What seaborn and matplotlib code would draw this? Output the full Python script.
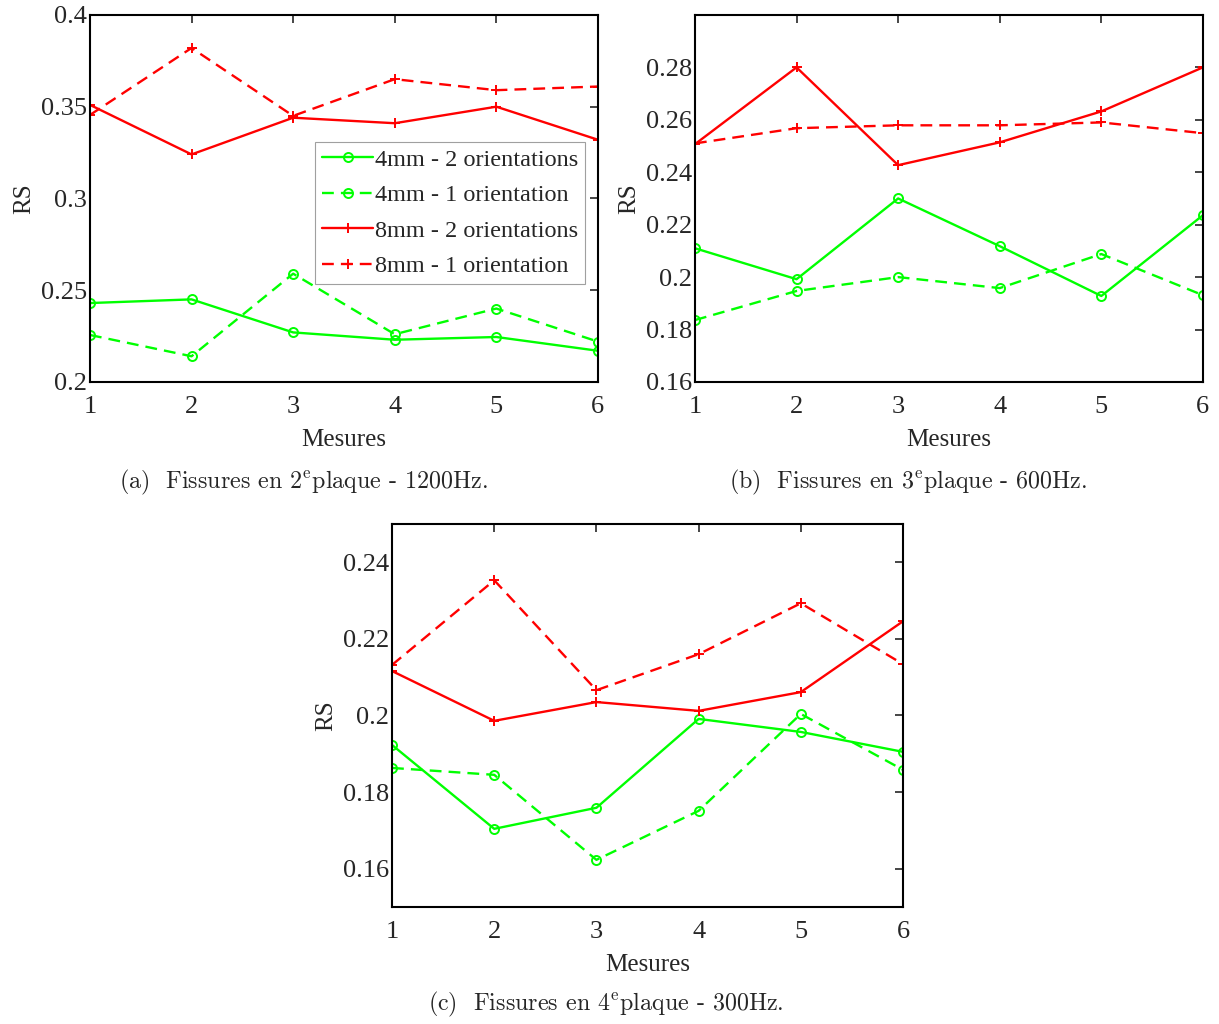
import numpy as np
import pandas as pd
import matplotlib
matplotlib.use("Agg")
import matplotlib.pyplot as plt
import seaborn as sns

# valeurs
mesures = [1, 2, 3, 4, 5, 6]
noms = ["4mm - 2 orientations", "4mm - 1 orientation",
        "8mm - 2 orientations", "8mm - 1 orientation"]

# (a) 2e plaque - 1200Hz
a_4mm_2 = [0.243, 0.245, 0.227, 0.223, 0.2245, 0.217]
a_4mm_1 = [0.2256, 0.214, 0.259, 0.226, 0.240, 0.222]
a_8mm_2 = [0.351, 0.324, 0.344, 0.341, 0.350, 0.332]
a_8mm_1 = [0.3455, 0.382, 0.345, 0.365, 0.359, 0.361]

# (b) 3e plaque - 600Hz
b_4mm_2 = [0.211, 0.1992, 0.230, 0.2118, 0.1928, 0.2236]
b_4mm_1 = [0.1836, 0.1947, 0.200, 0.1958, 0.2088, 0.1931]
b_8mm_2 = [0.2507, 0.280, 0.2427, 0.2514, 0.2632, 0.280]
b_8mm_1 = [0.251, 0.2568, 0.2579, 0.2579, 0.259, 0.2549]

# (c) 4e plaque - 300Hz
c_4mm_2 = [0.1923, 0.1704, 0.1759, 0.1991, 0.1957, 0.1905]
c_4mm_1 = [0.1863, 0.1845, 0.1623, 0.1751, 0.2004, 0.1858]
c_8mm_2 = [0.2116, 0.1986, 0.2035, 0.2012, 0.2061, 0.2246]
c_8mm_1 = [0.2132, 0.2353, 0.2066, 0.216, 0.2293, 0.2134]

legendes = [("(a)  Fissures en 2", "plaque - 1200Hz."),
            ("(b)  Fissures en 3", "plaque - 600Hz."),
            ("(c)  Fissures en 4", "plaque - 300Hz.")]

sns.set_style("white")
plt.rcParams["font.family"] = ["Liberation Serif", "DejaVu Serif"]
plt.rcParams["mathtext.fontset"] = "cm"

styles = [dict(color=(0, 1, 0), marker="o", linestyle="-", mfc="none"),
          dict(color=(0, 1, 0), marker="o", linestyle=(0, (5, 3)), mfc="none"),
          dict(color=(1, 0, 0), marker="+", linestyle="-"),
          dict(color=(1, 0, 0), marker="+", linestyle=(0, (5, 3)))]

fig = plt.figure(figsize=(12.19, 10.24), dpi=100)
ax_a = fig.add_axes([0.0738, 0.627, 0.4167, 0.3584])
ax_b = fig.add_axes([0.5701, 0.627, 0.4167, 0.3584])
ax_c = fig.add_axes([0.3216, 0.1143, 0.4192, 0.374])

panneaux = [
    (ax_a, [a_4mm_2, a_4mm_1, a_8mm_2, a_8mm_1], (0.2, 0.4), np.arange(0.2, 0.401, 0.05)),
    (ax_b, [b_4mm_2, b_4mm_1, b_8mm_2, b_8mm_1], (0.16, 0.30), np.arange(0.16, 0.281, 0.02)),
    (ax_c, [c_4mm_2, c_4mm_1, c_8mm_2, c_8mm_1], (0.15, 0.25), np.arange(0.16, 0.241, 0.02)),
]

for i, (ax, series, ylim, yticks) in enumerate(panneaux):
    for nom, vals, st in zip(noms, series, styles):
        df = pd.DataFrame({"Mesures": mesures, "RS": vals})
        sns.lineplot(data=df, x="Mesures", y="RS", ax=ax, label=nom,
                     color=st["color"], marker=st["marker"],
                     linestyle=st["linestyle"], linewidth=1.7,
                     markersize=6.5, markeredgewidth=1.4,
                     markerfacecolor=st.get("mfc", st["color"]),
                     markeredgecolor=st["color"])
    ax.set_xlim(1, 6)
    ax.set_ylim(*ylim)
    ax.set_xticks(mesures)
    ax.set_yticks(yticks)
    ax.set_yticklabels(["%g" % round(t, 3) for t in yticks])
    ax.tick_params(direction="in", top=True, right=True, length=6,
                   width=1.2, labelsize=19)
    ax.tick_params(axis="x", pad=10)
    ax.tick_params(axis="y", pad=2)
    for s in ax.spines.values():
        s.set_linewidth(1.5)
        s.set_color("black")
    ax.set_xlabel("Mesures", fontsize=18, labelpad=8)
    ax.set_ylabel("RS", fontsize=18, labelpad=4)
    if i == 0:
        leg = ax.legend(loc="upper right", bbox_to_anchor=(0.975, 0.655),
                        fontsize=17.5, frameon=True, fancybox=False,
                        handlelength=2.1, handletextpad=0.05,
                        borderpad=0.3, labelspacing=0.55, borderaxespad=0)
        leg.get_frame().set_edgecolor("#888888")
        leg.get_frame().set_linewidth(0.8)
    else:
        ax.get_legend().remove()

positions = [(0.249, 0.529), (0.745, 0.529), (0.497, 0.019)]
for (debut, fin), (px, py) in zip(legendes, positions):
    fig.text(px, py, debut + "$^{\\mathrm{e}}$" + fin, ha="center", va="center",
             fontsize=17.3, family=["cmr10", "DejaVu Serif"])

fig.savefig("out.png", dpi=100)
